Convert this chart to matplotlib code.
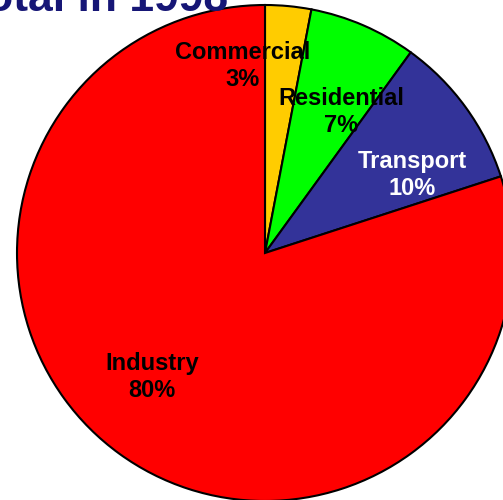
#Libraries
import matplotlib.pyplot as plt

#Data
sectors=['Commercial','Residential','Transport','Industry']
shares=[3,7,10,80]
colors=['#FFCC00','#00FF00','#333399','#FF0000']
text_colors=['black','black','white','black']
#Label anchor points (pixels, y from top)
label_pos=[(243,66),(341,112),(412,175),(152,377)]
title='Total in 1998'

plt.rcParams['font.family']=['Liberation Sans','DejaVu Sans']

W,H=503,500
fig=plt.figure(figsize=(W/100,H/100),dpi=100)
ax=fig.add_axes([0,0,1,1])

#Pie
ax.pie(shares,colors=colors,startangle=90,counterclock=False,
       center=(265,H-253),radius=248,
       wedgeprops=dict(edgecolor='black',linewidth=1.5),frame=True)
ax.set_xlim(0,W)
ax.set_ylim(0,H)
ax.set_aspect('equal')
ax.axis('off')

#Labels
for name,val,(x,y),tc in zip(sectors,shares,label_pos,text_colors):
    ax.text(x,H-y,f'{name}\n{val}%',ha='center',va='center',fontsize=17,
            fontweight='bold',color=tc,linespacing=1.25)

#Title (clipped at the top like the original)
ax.text(228,H-11,title,ha='right',va='baseline',fontsize=32,
        fontweight='bold',color='#161676')

fig.savefig('out.png',dpi=100)
